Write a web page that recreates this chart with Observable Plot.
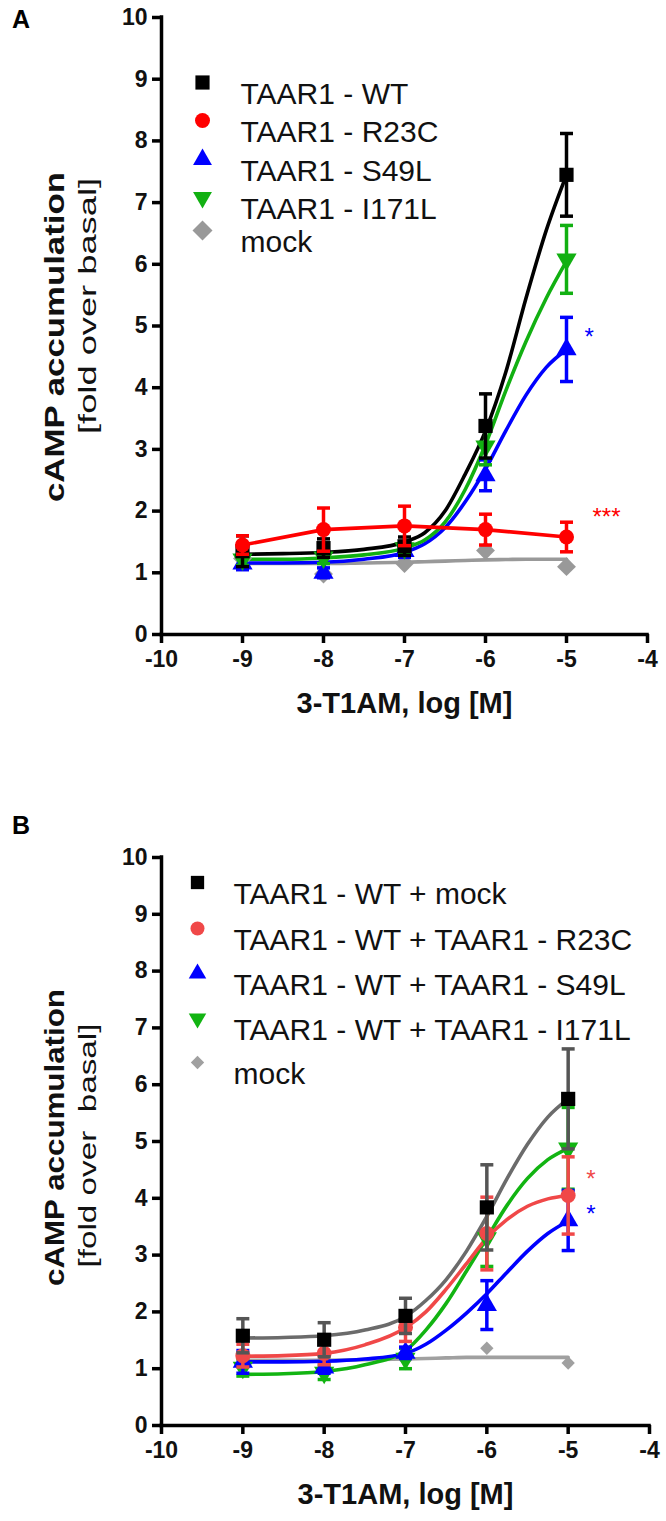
<!DOCTYPE html>
<html><head><meta charset="utf-8">
<script src="https://cdn.jsdelivr.net/npm/d3@7"></script>
<script src="https://cdn.jsdelivr.net/npm/@observablehq/plot@0.6"></script>
<style>
body{margin:0;background:#fff;}
#wrap{position:relative;width:666px;height:1521px;font-family:"Liberation Sans",Arial,sans-serif;overflow:hidden;}
.panel{position:absolute;left:0;}
.tag{position:absolute;left:12px;font:bold 25px "Liberation Sans",Arial,sans-serif;}
</style></head><body>
<div id="wrap">
<div id="pa" class="panel" style="top:0"></div>
<div id="pb" class="panel" style="top:760px"></div>
<div class="tag" style="top:5px">A</div>
<div class="tag" style="top:811px">B</div>
</div>
<script>
// ---------- data ----------
const doses = [-9, -8, -7, -6, -5];
const fitX = [-9, -8.5, -8, -7.5, -7, -6.75, -6.5, -6.25, -6, -5.75, -5.5, -5.25, -5];
const xTicks = [-10, -9, -8, -7, -6, -5, -4];
const yTicks = [0, 1, 2, 3, 4, 5, 6, 7, 8, 9, 10];
const xTitle = "3-T1AM, log [M]";
const yTitle = "cAMP accumulation";
const ySubA = "[fold over basal]";
const ySubB = "[fold over\u00a0 basal]";

// Panel A
const aLabels = ["TAAR1 - WT", "TAAR1 - R23C", "TAAR1 - S49L", "TAAR1 - I171L", "mock"];
const aWT = [1.35, 1.40, 1.43, 3.38, 7.45];
const aWTerr = [0.25, 0.15, 0.15, 0.52, 0.67];
const aR23C = [1.45, 1.70, 1.76, 1.70, 1.58];
const aR23Cerr = [0.15, 0.35, 0.32, 0.25, 0.24];
const aS49L = [1.15, 1.00, 1.35, 2.58, 4.62];
const aS49Lerr = [0.10, 0.08, 0.10, 0.25, 0.52];
const aI171L = [1.22, 1.25, 1.40, 3.05, 6.08];
const aI171Lerr = [0.10, 0.10, 0.10, 0.30, 0.55];
const aMock = [1.23, 0.98, 1.15, 1.36, 1.10];
const aMockErr = [0, 0, 0, 0, 0];
const aWTfit = [1.30, 1.31, 1.33, 1.38, 1.50, 1.65, 2.00, 2.60, 3.30, 4.25, 5.45, 6.55, 7.45];
const aI171Lfit = [1.22, 1.22, 1.24, 1.29, 1.40, 1.53, 1.82, 2.35, 3.08, 3.95, 4.75, 5.45, 6.05];
const aS49Lfit = [1.16, 1.16, 1.17, 1.22, 1.33, 1.47, 1.73, 2.15, 2.68, 3.30, 3.88, 4.33, 4.62];
const aMockFit = [1.15, 1.15, 1.15, 1.16, 1.17, 1.18, 1.19, 1.20, 1.21, 1.215, 1.22, 1.22, 1.22];

// Panel B
const bLabels = ["TAAR1 - WT + mock", "TAAR1 - WT + TAAR1 - R23C", "TAAR1 - WT + TAAR1 - S49L", "TAAR1 - WT + TAAR1 - I171L", "mock"];
const bWT = [1.58, 1.51, 1.93, 3.84, 5.75];
const bWTerr = [0.30, 0.30, 0.31, 0.75, 0.88];
const bR23C = [1.23, 1.27, 1.73, 3.38, 4.05];
const bR23Cerr = [0.20, 0.20, 0.25, 0.64, 0.68];
const bS49L = [1.12, 1.02, 1.28, 2.12, 3.61];
const bS49Lerr = [0.20, 0.10, 0.10, 0.43, 0.53];
const bI171L = [1.02, 0.93, 1.18, 3.30, 4.88];
const bI171Lerr = [0.15, 0.12, 0.18, 0.50, 0.72];
const bMock = [1.20, 1.10, 1.15, 1.36, 1.10];
const bMockErr = [0, 0, 0, 0, 0];
const bWTfit = [1.54, 1.55, 1.58, 1.68, 1.92, 2.20, 2.57, 3.07, 3.68, 4.35, 4.95, 5.43, 5.75];
const bR23Cfit = [1.22, 1.23, 1.27, 1.42, 1.72, 2.00, 2.40, 2.85, 3.30, 3.63, 3.86, 3.99, 4.05];
const bS49Lfit = [1.12, 1.12, 1.13, 1.17, 1.27, 1.43, 1.68, 1.98, 2.32, 2.70, 3.07, 3.38, 3.60];
const bI171Lfit = [0.90, 0.91, 0.95, 1.07, 1.32, 1.68, 2.15, 2.72, 3.30, 3.88, 4.35, 4.68, 4.88];
const bMockFit = [1.15, 1.15, 1.15, 1.16, 1.17, 1.18, 1.19, 1.20, 1.20, 1.20, 1.20, 1.20, 1.20];

// ---------- drawing ----------
const FONT = '"Liberation Sans", Arial, sans-serif';
const cap = {draw(ctx) { ctx.moveTo(-6.5, 0); ctx.lineTo(6.5, 0); }};

function buildPanel(cfg) {
  const marks = [];
  for (const s of cfg.series) {
    const pts = s.fit ? fitX.map((x, i) => ({x, y: s.fit[i]})) : doses.map((x, i) => ({x, y: s.mean[i]}));
    marks.push(Plot.line(pts, {x: "x", y: "y", stroke: s.line, strokeWidth: 3.6, curve: s.fit ? "monotone-x" : "linear"}));
  }
  for (const s of cfg.series) {
    const pts = doses.map((x, i) => ({x, y: s.mean[i], e: s.err[i]}));
    const eb = pts.filter(d => d.e > 0);
    marks.push(Plot.ruleX(eb, {x: "x", y1: d => d.y - d.e, y2: d => d.y + d.e, stroke: s.bar, strokeWidth: 3.5}));
    marks.push(Plot.dot(eb, {x: "x", y: d => d.y + d.e, symbol: cap, r: 5, stroke: s.bar, strokeWidth: 3.5}));
    marks.push(Plot.dot(eb, {x: "x", y: d => d.y - d.e, symbol: cap, r: 5, stroke: s.bar, strokeWidth: 3.5}));
    marks.push(Plot.dot(pts, {x: "x", y: "y", symbol: s.symbol, r: s.r, fill: s.fill, rotate: s.rotate || 0}));
  }
  for (const a of cfg.notes) {
    const s = a.series;
    marks.push(Plot.text([a.label], {x: () => doses[4], y: () => s.mean[4], text: d => d, dx: a.dx, dy: a.dy, fill: s.fill, fontSize: 24, textAnchor: "start"}));
  }
  cfg.legend.forEach((s, i) => {
    const dy = cfg.legendTop + cfg.legendRows[i];
    marks.push(Plot.dot([s.label], {frameAnchor: "top-left", dx: cfg.legendSymX, dy, symbol: s.symbol, r: s.lr, fill: s.fill, rotate: s.rotate || 0}));
    marks.push(Plot.text([s.label], {frameAnchor: "top-left", dx: cfg.legendTextX, dy, text: d => d, textAnchor: "start", fontSize: cfg.legendFont, fill: "#111"}));
  });
  marks.push(Plot.ruleX([xTicks[0]], {stroke: "#000", strokeWidth: 3.5, strokeLinecap: "square"}));
  marks.push(Plot.ruleY([yTicks[0]], {stroke: "#000", strokeWidth: 3.5, strokeLinecap: "square"}));
  marks.push(Plot.axisX({ticks: xTicks, tickSize: 9, tickPadding: 7, tickFormat: d => String(d), fontSize: 23, fontWeight: "bold", strokeWidth: 3.5, label: null, fill: "#111"}));
  marks.push(Plot.axisY({ticks: yTicks, tickSize: 9, tickPadding: 5, tickFormat: d => String(d), fontSize: 23, fontWeight: "bold", strokeWidth: 3.5, label: null, fill: "#111"}));
  marks.push(Plot.text([xTitle], {frameAnchor: "bottom", dy: 78, text: d => d, fontSize: 29, fontWeight: "bold", fill: "#111"}));
  marks.push(Plot.text([yTitle], {frameAnchor: "left", textAnchor: "middle", dx: -106, dy: cfg.titleDy, rotate: -90, text: d => d, fontSize: 27, fontWeight: "bold", fill: "#111"}));
  marks.push(Plot.text([cfg.ySub], {frameAnchor: "left", textAnchor: "middle", dx: -73, dy: cfg.subDy, rotate: -90, text: d => d, fontSize: 23, fill: "#111"}));

  const svg = Plot.plot({
    width: 666, height: cfg.height,
    marginLeft: 161, marginRight: cfg.marginRight, marginTop: cfg.marginTop, marginBottom: cfg.marginBottom,
    x: {domain: [xTicks[0], xTicks[xTicks.length - 1]]},
    y: {domain: [yTicks[0], yTicks[yTicks.length - 1]]},
    style: {fontFamily: FONT, background: "white", overflow: "visible"},
    marks
  });
  // the rotated axis titles are drawn elongated in the original figure
  svg.querySelectorAll("text").forEach(t => {
    if (t.textContent === yTitle) { t.setAttribute("textLength", cfg.titleLen); t.setAttribute("lengthAdjust", "spacingAndGlyphs"); }
    if (t.textContent === cfg.ySub) { t.setAttribute("textLength", cfg.subLen); t.setAttribute("lengthAdjust", "spacingAndGlyphs"); }
  });
  return svg;
}

const A = {
  WT: {label: aLabels[0], mean: aWT, err: aWTerr, fit: aWTfit, line: "#000", bar: "#000", fill: "#000", symbol: "square", r: 8, lr: 8},
  R23C: {label: aLabels[1], mean: aR23C, err: aR23Cerr, fit: null, line: "#ff0000", bar: "#ff0000", fill: "#ff0000", symbol: "circle", r: 7.5, lr: 7.5},
  S49L: {label: aLabels[2], mean: aS49L, err: aS49Lerr, fit: aS49Lfit, line: "#0000ff", bar: "#0000ff", fill: "#0000ff", symbol: "triangle", r: 7.5, lr: 7},
  I171L: {label: aLabels[3], mean: aI171L, err: aI171Lerr, fit: aI171Lfit, line: "#12b012", bar: "#12b012", fill: "#12b012", symbol: "triangle", rotate: 180, r: 7.5, lr: 7},
  mock: {label: aLabels[4], mean: aMock, err: aMockErr, fit: aMockFit, line: "#999999", bar: "#999999", fill: "#999999", symbol: "diamond2", r: 8.5, lr: 9}
};
document.getElementById("pa").appendChild(buildPanel({
  height: 760, marginTop: 17, marginBottom: 126, marginRight: 19,
  ySub: ySubA, titleDy: 11, subDy: -20, titleLen: 330, subLen: 256,
  series: [A.mock, A.S49L, A.I171L, A.WT, A.R23C],
  legend: [A.WT, A.R23C, A.S49L, A.I171L, A.mock],
  legendTop: 65, legendRows: [0, 38, 77, 115, 148], legendSymX: 41, legendTextX: 79, legendFont: 30,
  notes: [{series: A.S49L, label: "*", dx: 18, dy: -12}, {series: A.R23C, label: "***", dx: 26, dy: -20}]
}));

const B = {
  WT: {label: bLabels[0], mean: bWT, err: bWTerr, fit: bWTfit, line: "#6b6b6b", bar: "#555555", fill: "#000", symbol: "square", r: 8, lr: 7.5},
  R23C: {label: bLabels[1], mean: bR23C, err: bR23Cerr, fit: bR23Cfit, line: "#f04848", bar: "#f04848", fill: "#f04848", symbol: "circle", r: 7.5, lr: 7},
  S49L: {label: bLabels[2], mean: bS49L, err: bS49Lerr, fit: bS49Lfit, line: "#0000ff", bar: "#0000ff", fill: "#0000ff", symbol: "triangle", r: 7.5, lr: 6.5},
  I171L: {label: bLabels[3], mean: bI171L, err: bI171Lerr, fit: bI171Lfit, line: "#12b412", bar: "#12b412", fill: "#12b412", symbol: "triangle", rotate: 180, r: 7.5, lr: 6.5},
  mock: {label: bLabels[4], mean: bMock, err: bMockErr, fit: bMockFit, line: "#a0a0a0", bar: "#a0a0a0", fill: "#a0a0a0", symbol: "diamond2", r: 6, lr: 6}
};
document.getElementById("pb").appendChild(buildPanel({
  height: 761, marginTop: 97, marginBottom: 96, marginRight: 17,
  ySub: ySubB, titleDy: -4, subDy: 4, titleLen: 297, subLen: 244,
  series: [B.mock, B.I171L, B.S49L, B.R23C, B.WT],
  legend: [B.WT, B.R23C, B.S49L, B.I171L, B.mock],
  legendTop: 25, legendRows: [0, 46, 91, 136, 180], legendSymX: 36, legendTextX: 72, legendFont: 30,
  notes: [{series: B.R23C, label: "*", dx: 18, dy: -16}, {series: B.S49L, label: "*", dx: 18, dy: -6}]
}));
</script>
</body></html>
